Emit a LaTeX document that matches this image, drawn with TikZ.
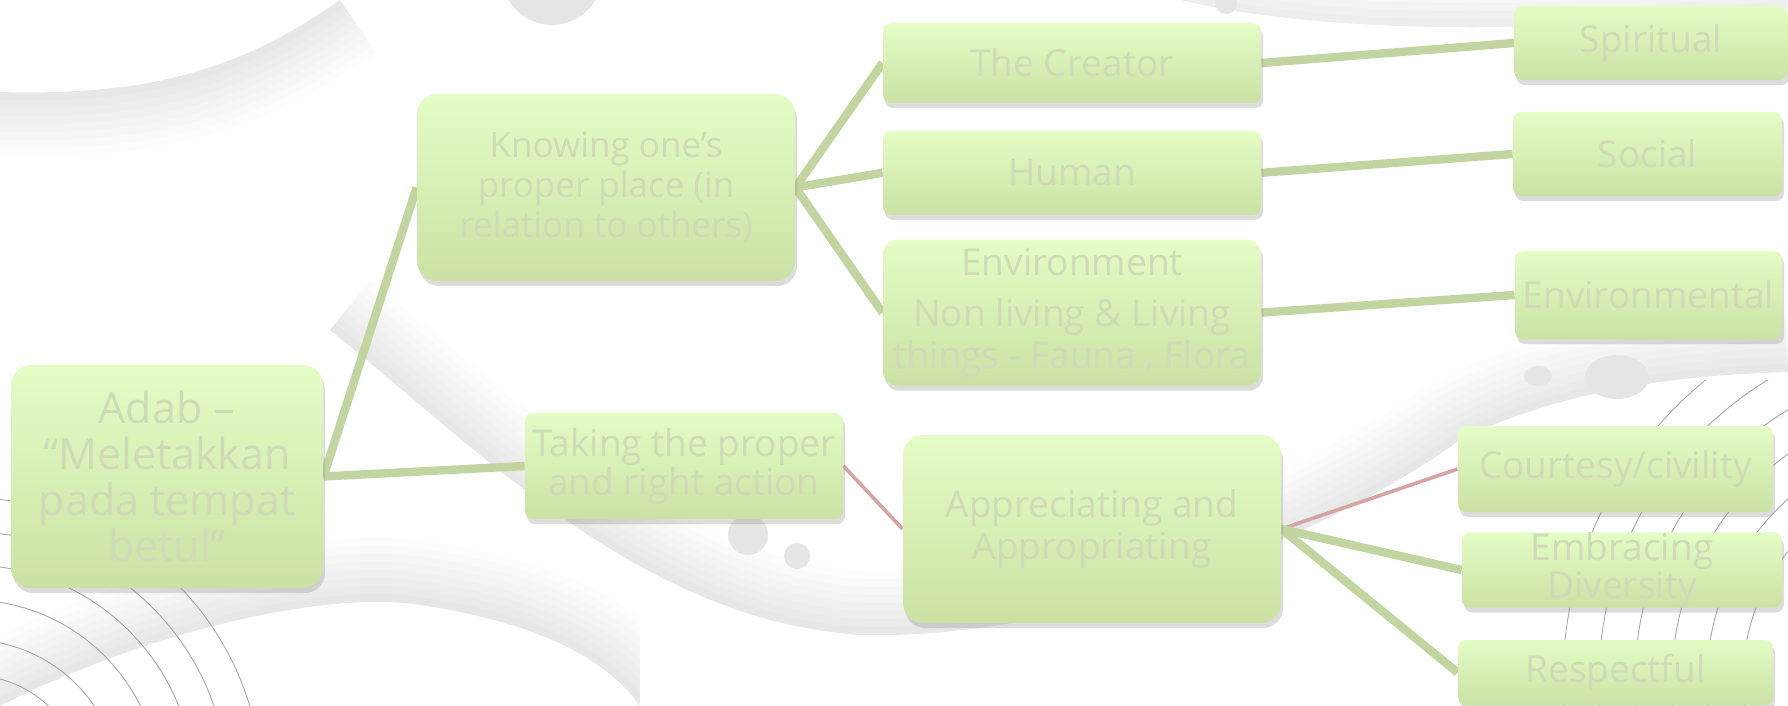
\documentclass[tikz,border=0pt]{standalone}
\usepackage{fontspec}
\setmainfont{Open Sans}
\usetikzlibrary{positioning,shadows}
\pgfdeclarelayer{decor}
\pgfdeclarelayer{links}
\pgfsetlayers{decor,links,main}

\definecolor{boxtop}{RGB}{228,252,197}
\definecolor{boxbot}{RGB}{203,225,164}
\definecolor{boxtext}{RGB}{205,219,183}
\definecolor{linkgreen}{RGB}{194,212,159}
\definecolor{linkpink}{RGB}{214,163,163}
\definecolor{blobgray}{RGB}{229,229,229}

\begin{document}
\begin{tikzpicture}
[x=0.5pt,y=-0.5pt,
 box/.style={rounded corners=4pt,top color=boxtop,bottom color=boxbot,
   text=boxtext,align=center,inner sep=0pt,font=\fontsize{18.5}{21}\selectfont,
   drop shadow={shadow xshift=1pt,shadow yshift=-2.5pt,opacity=0.3,fill=black!45}},
 bigbox/.style={box,rounded corners=10pt},
 link/.style={draw=linkgreen,line width=4.2pt},
 thinlink/.style={draw=linkpink,line width=1.8pt},
 swoosh/.style={black,opacity=0.011,line width=#1},
 arc/.style={black!35,line width=0.45pt}]
\useasboundingbox (0,0) rectangle (1788,706);

\begin{pgfonlayer}{decor}
\begin{scope}
\clip (0,0) rectangle (1788,706);
% soft grey bands of the background
\begin{scope}
\clip (0,92) .. controls (150,96) and (240,70) .. (340,0) -- (900,0) -- (900,400) -- (0,400) -- cycle;
\foreach \w in {8,16,...,64}
  \draw[swoosh=\w pt] (0,92) .. controls (150,96) and (240,70) .. (340,0);
\end{scope}
\begin{scope}
\clip (330,330) .. controls (480,450) and (640,620) .. (860,635) .. controls (1100,640) and (1350,520) .. (1460,440) .. controls (1560,390) and (1680,375) .. (1788,372) -- (1788,0) -- (330,0) -- cycle;
\foreach \w in {8,16,...,64}
  \draw[swoosh=\w pt] (330,330) .. controls (480,450) and (640,620) .. (860,635) .. controls (1100,640) and (1350,520) .. (1460,440) .. controls (1560,390) and (1680,375) .. (1788,372);
\end{scope}
\begin{scope}
\clip (0,706) .. controls (150,630) and (330,590) .. (420,605) .. controls (520,620) and (600,650) .. (640,706) -- (640,400) -- (0,400) -- cycle;
\foreach \w in {8,16,...,64}
  \draw[swoosh=\w pt] (0,706) .. controls (150,630) and (330,590) .. (420,605) .. controls (520,620) and (600,650) .. (640,706);
\end{scope}
\begin{scope}
\clip (1180,0) .. controls (1350,40) and (1600,30) .. (1788,8) -- (1788,0) -- cycle;
\foreach \w in {8,16,...,48}
  \draw[swoosh=\w pt] (1180,0) .. controls (1350,40) and (1600,30) .. (1788,8);
\end{scope}
% grey dots
\fill[blobgray] (552,-25) circle (50);
\fill[blobgray] (1226,3) circle (11);
\fill[blobgray] (748,535) circle (20);
\fill[blobgray] (797,556) circle (13);
\fill[blobgray] (1538,376) ellipse (14 and 10);
\fill[blobgray] (1617,377) ellipse (32 and 22);
% thin arcs
\foreach \r in {115,150,190,225,258,292}
  \draw[arc] (-30,790) circle (\r);
\begin{scope}
\clip (1545,380) rectangle (1788,706);
\foreach \r in {207,243,278,315,351,387}
  \draw[arc] (1950,680) circle (\r);
\end{scope}
\end{scope}
\end{pgfonlayer}

\node[bigbox,minimum width=156pt,minimum height=111.5pt,font=\fontsize{21.5}{23}\selectfont] (adab) at (167,476.5) {Adab –\\“Meletakkan\\pada tempat\\betul”};
\node[bigbox,minimum width=189pt,minimum height=93.5pt,font=\fontsize{17.5}{20}\selectfont] (know) at (606,187.5) {Knowing one’s\\proper place (in\\relation to others)};
\node[box,minimum width=189pt,minimum height=40pt] (creator) at (1072,63) {The Creator};
\node[box,minimum width=189pt,minimum height=42pt,below=13.5pt of creator] (human) {Human};
\node[box,rounded corners=7pt,minimum width=189pt,minimum height=73pt,below=12pt of human] (envir) {Environment\\[4.5pt]Non living \& Living\\things - Fauna , Flora};
\node[box,minimum width=136.5pt,minimum height=37pt] (spirit) at (1651,43) {Spiritual};
\node[box,minimum width=134.5pt,minimum height=42pt] (social) at (1647.5,154) {Social};
\node[box,minimum width=133.5pt,minimum height=44pt] (envtal) at (1648.5,295) {Environmental};
\node[box,minimum width=159pt,minimum height=53pt,font=\fontsize{18.5}{19.5}\selectfont] (taking) at (684,466) {Taking the proper\\and right action};
\node[bigbox,minimum width=189pt,minimum height=94pt] (appr) at (1092,529) {Appreciating and\\Appropriating};
\node[box,minimum width=157.5pt,minimum height=43pt] (courtesy) at (1615.5,469) {Courtesy/civility};
\node[box,minimum width=160pt,minimum height=37pt,font=\fontsize{18.5}{16.5}\selectfont] (embrace) at (1622,570) {Embracing\\Diversity};
\node[box,minimum width=157.5pt,minimum height=32.5pt] (respect) at (1615.5,672.5) {Respectful};

\begin{pgfonlayer}{links}
\path (adab.east) edge[link] (know.west);
\path (adab.east) edge[link] (taking.west);
\path (know.east) edge[link] (creator.west);
\path (know.east) edge[link] (human.west);
\path (know.east) edge[link] (envir.west);
\path (creator.east) edge[link] (spirit.west);
\path (human.east) edge[link] (social.west);
\path (envir.east) edge[link] (envtal.west);
\path (taking.east) edge[thinlink] (appr.west);
\path (appr.east) edge[thinlink] (courtesy.west);
\path (appr.east) edge[link] (embrace.west);
\path (appr.east) edge[link] (respect.west);
\end{pgfonlayer}
\end{tikzpicture}
\end{document}
